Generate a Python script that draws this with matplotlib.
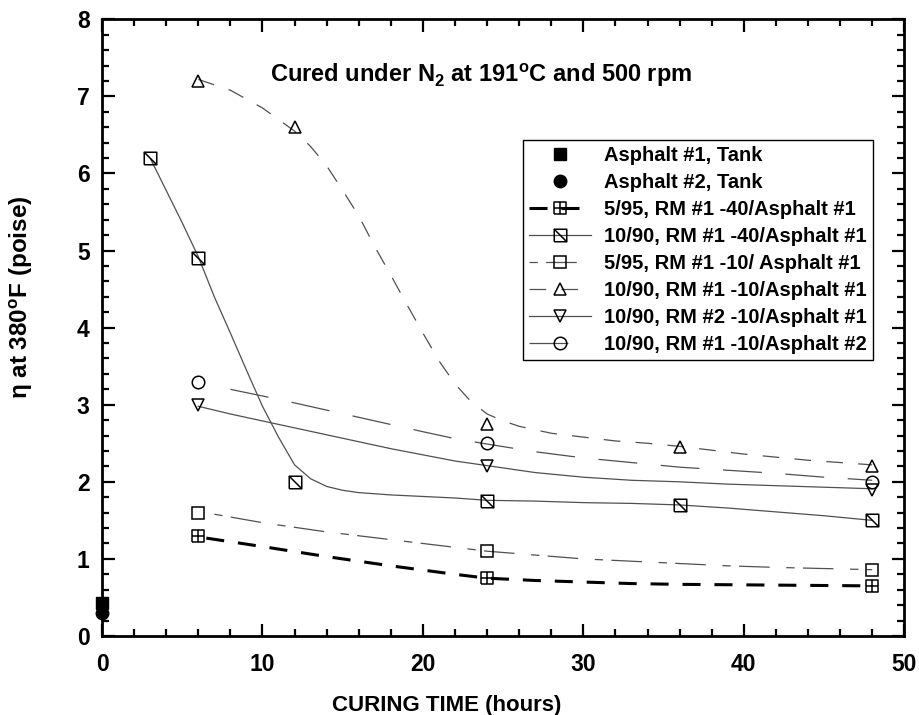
import matplotlib
matplotlib.use("Agg")
import matplotlib.pyplot as plt
from matplotlib.path import Path
from matplotlib.ticker import MultipleLocator

plt.rcParams['font.family'] = ['Liberation Sans', 'DejaVu Sans']
plt.rcParams['font.weight'] = 'bold'
plt.rcParams['mathtext.fontset'] = 'custom'
plt.rcParams['mathtext.rm'] = 'Liberation Sans:bold'
plt.rcParams['mathtext.bf'] = 'Liberation Sans:bold'
plt.rcParams['lines.scale_dashes'] = False

# tank samples at time zero
tank1_x, tank1_y = [0], [0.43]
tank2_x, tank2_y = [0], [0.30]

# measured viscosities (hours, poise)
rm40_5_x = [6, 24, 48]
rm40_5_y = [1.30, 0.75, 0.65]
rm40_10_x = [3, 6, 12, 24, 36, 48]
rm40_10_y = [6.2, 4.9, 2.0, 1.75, 1.70, 1.50]
rm10_5_x = [6, 24, 48]
rm10_5_y = [1.60, 1.10, 0.85]
rm10_10_x = [6, 12, 24, 36, 48]
rm10_10_y = [7.2, 6.6, 2.75, 2.45, 2.20]
rm2_10_x = [6, 24, 48]
rm2_10_y = [3.0, 2.2, 1.9]
a2_10_x = [6, 24, 48]
a2_10_y = [3.3, 2.5, 2.0]

# fitted trend lines
fit_rm40_5_x = [6.5, 10, 14, 18, 22, 24, 27, 30, 33, 36, 39, 42, 45, 48]
fit_rm40_5_y = [1.27, 1.16, 1.03, 0.91, 0.80, 0.75, 0.72, 0.70, 0.68, 0.67, 0.665, 0.66, 0.655, 0.65]
fit_rm40_10_x = [3, 4, 5, 6, 7, 8, 9, 10, 11, 12, 13, 14, 15, 16, 18, 20, 22, 24, 27, 30, 33, 36, 39, 42, 45, 48]
fit_rm40_10_y = [6.2, 5.78, 5.36, 4.92, 4.4, 3.93, 3.45, 2.98, 2.58, 2.22, 2.04, 1.94, 1.89, 1.86,
                 1.83, 1.81, 1.79, 1.76, 1.75, 1.73, 1.72, 1.70, 1.66, 1.61, 1.56, 1.50]
fit_rm10_5_x = [7, 10, 14, 18, 22, 24, 27, 30, 33, 36, 39, 42, 45, 48]
fit_rm10_5_y = [1.58, 1.47, 1.35, 1.25, 1.15, 1.10, 1.05, 1.00, 0.97, 0.94, 0.91, 0.89, 0.875, 0.86]
fit_rm10_10_x = [6, 8, 10, 12, 13, 14, 15, 16, 17, 18, 19, 20, 21, 22, 23, 24, 25, 26, 28,
                 30, 32, 34, 36, 38, 40, 42, 44, 46, 48]
fit_rm10_10_y = [7.22, 7.08, 6.85, 6.55, 6.35, 6.1, 5.78, 5.45, 5.05, 4.68, 4.3, 3.93, 3.57, 3.27,
                 3.04, 2.88, 2.79, 2.72, 2.63, 2.58, 2.53, 2.50, 2.46, 2.41, 2.36, 2.32, 2.28, 2.25, 2.22]
fit_rm2_10_x = [6, 8, 10, 12, 14, 16, 18, 20, 22, 24, 27, 30, 33, 36, 39, 42, 45, 48]
fit_rm2_10_y = [2.98, 2.88, 2.79, 2.70, 2.61, 2.52, 2.43, 2.35, 2.27, 2.21, 2.12, 2.06, 2.02,
                2.00, 1.97, 1.95, 1.93, 1.91]
fit_a2_10_x = [8, 11, 14, 17, 20, 22, 24, 27, 30, 33, 36, 39, 42, 45, 48]
fit_a2_10_y = [3.2, 3.07, 2.93, 2.79, 2.65, 2.56, 2.49, 2.39, 2.31, 2.25, 2.19, 2.15, 2.11, 2.06, 2.02]

labels = ["Asphalt #1, Tank", "Asphalt #2, Tank",
          "5/95, RM #1 -40/Asphalt #1", "10/90, RM #1 -40/Asphalt #1",
          "5/95, RM #1 -10/ Asphalt #1", "10/90, RM #1 -10/Asphalt #1",
          "10/90, RM #2 -10/Asphalt #1", "10/90, RM #1 -10/Asphalt #2"]

M, L = Path.MOVETO, Path.LINETO
sq = [(-1, -1), (1, -1), (1, 1), (-1, 1), (-1, -1)]
sq_codes = [M, L, L, L, L]
sq_plus = Path(sq + [(0, -1), (0, 1), (-1, 0), (1, 0)], sq_codes + [M, L, M, L])
sq_slash = Path(sq + [(-1, 1), (1, -1)], sq_codes + [M, L])

fig = plt.figure(figsize=(9.19, 7.15), dpi=100)
ax = fig.add_axes([0.111, 0.1105, 0.873, 0.8625])

gray = '#505050'
mk = dict(markersize=9, markerfacecolor='none', markeredgecolor='black', markeredgewidth=1.1, linestyle='none')

ax.plot(tank1_x, tank1_y, marker='s', color='black', markersize=9, linestyle='none', clip_on=False)
ax.plot(tank2_x, tank2_y, marker='o', color='black', markersize=9, linestyle='none', clip_on=False)

ax.plot(fit_rm40_5_x, fit_rm40_5_y, color='black', lw=2.2, dashes=(13, 10))
ax.plot(rm40_5_x, rm40_5_y, marker=sq_plus, **mk)
ax.plot(fit_rm40_10_x, fit_rm40_10_y, color=gray, lw=0.9)
ax.plot(rm40_10_x, rm40_10_y, marker=sq_slash, **mk)
ax.plot(fit_rm10_5_x, fit_rm10_5_y, color=gray, lw=0.9, dashes=(6, 6, 22, 12))
ax.plot(rm10_5_x, rm10_5_y, marker='s', **mk)
ax.plot(fit_rm10_10_x, fit_rm10_10_y, color=gray, lw=0.9, dashes=(12, 11))
ax.plot(rm10_10_x, rm10_10_y, marker='^', **mk)
ax.plot(fit_rm2_10_x, fit_rm2_10_y, color=gray, lw=0.9)
ax.plot(rm2_10_x, rm2_10_y, marker='v', **mk)
ax.plot(fit_a2_10_x, fit_a2_10_y, color=gray, lw=0.9, dashes=(28, 17))
ax.plot(a2_10_x, a2_10_y, marker='o', **mk)

# legend handles combine marker and line style
handles = []
handles.append(plt.Line2D([], [], marker='s', color='black', markersize=9, linestyle='none'))
handles.append(plt.Line2D([], [], marker='o', color='black', markersize=9, linestyle='none'))
hk = dict(markersize=9, markerfacecolor='none', markeredgecolor='black', markeredgewidth=1.1)
handles.append(plt.Line2D([], [], color='black', lw=2.2, dashes=(13, 10), marker=sq_plus, **hk))
handles.append(plt.Line2D([], [], color=gray, lw=0.9, marker=sq_slash, **hk))
handles.append(plt.Line2D([], [], color=gray, lw=0.9, dashes=(6, 6, 22, 12), marker='s', **hk))
handles.append(plt.Line2D([], [], color=gray, lw=0.9, dashes=(12, 11), marker='^', **hk))
handles.append(plt.Line2D([], [], color=gray, lw=0.9, marker='v', **hk))
handles.append(plt.Line2D([], [], color=gray, lw=0.9, dashes=(28, 17), marker='o', **hk))
leg = ax.legend(handles, labels, loc='upper right', bbox_to_anchor=(0.961, 0.805),
                fontsize=14.5, handlelength=3.1, handletextpad=0.65, labelspacing=0.4,
                borderpad=0.3, borderaxespad=0, fancybox=False, framealpha=1, edgecolor='black')
leg.get_frame().set_linewidth(1.0)

ax.text(10.5, 7.28, r'Cured under N$_{2}$ at 191$^{\rm o}$C and 500 rpm', fontsize=17,
        fontweight='bold', va='center', ha='left')

ax.set_xlim(0, 50)
ax.set_ylim(0, 8)
ax.xaxis.set_major_locator(MultipleLocator(10))
ax.xaxis.set_minor_locator(MultipleLocator(2))
ax.yaxis.set_major_locator(MultipleLocator(1))
ax.yaxis.set_minor_locator(MultipleLocator(0.2))
ax.tick_params(which='both', direction='in', top=True, right=True, width=1.6, labelsize=16.5)
ax.tick_params(axis='x', pad=12)
ax.tick_params(axis='y', pad=9)
ax.tick_params(which='major', length=9)
ax.tick_params(which='minor', length=5)
for s in ax.spines.values():
    s.set_linewidth(2)
ax.set_xlabel('CURING TIME (hours)', fontsize=16, fontweight='bold')
ax.xaxis.set_label_coords(0.43, -0.095)
ax.set_ylabel(r'η at 380$^{\rm o}$F (poise)', fontsize=17.5, fontweight='bold')
ax.yaxis.set_label_coords(-0.0835, 0.55)

plt.savefig('out.png', dpi=100)
